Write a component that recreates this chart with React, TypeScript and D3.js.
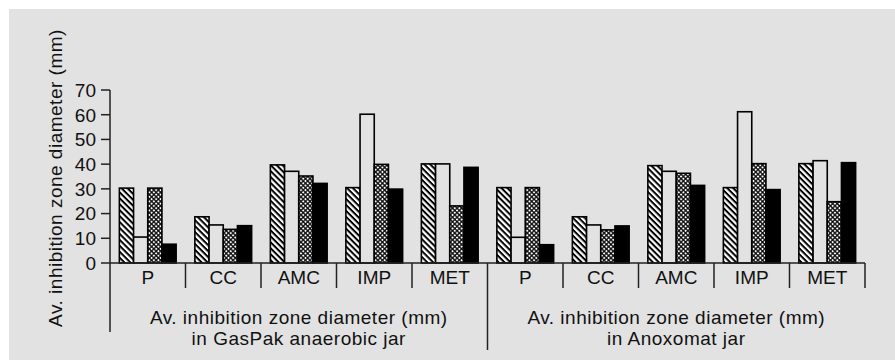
import React, { useEffect, useRef } from 'react';
import * as d3 from 'd3';

const drugs = ['P', 'CC', 'AMC', 'IMP', 'MET'];
const jarTitles = [
  ['Av. inhibition zone diameter (mm)', 'in GasPak anaerobic jar'],
  ['Av. inhibition zone diameter (mm)', 'in Anoxomat jar'],
];
const seriesKeys = ['hatched', 'open', 'dotted', 'solid'];
const yTicks = [0, 10, 20, 30, 40, 50, 60, 70];

// GasPak anaerobic jar, one value per drug
const gaspakHatched = [30.3, 18.7, 39.7, 30.5, 40.1];
const gaspakOpen = [10.5, 15.4, 37.1, 60.2, 40.1];
const gaspakDotted = [30.3, 13.6, 35.2, 39.9, 23.1];
const gaspakSolid = [7.6, 15.1, 32.2, 29.9, 38.7];

// Anoxomat jar
const anoxHatched = [30.5, 18.7, 39.4, 30.5, 40.2];
const anoxOpen = [10.4, 15.4, 37.1, 61.2, 41.4];
const anoxDotted = [30.5, 13.4, 36.3, 40.2, 24.8];
const anoxSolid = [7.4, 15.0, 31.4, 29.7, 40.6];

const jarSeries = [
  [gaspakHatched, gaspakOpen, gaspakDotted, gaspakSolid],
  [anoxHatched, anoxOpen, anoxDotted, anoxSolid],
];

const App: React.FC = () => {
  const ref = useRef<SVGSVGElement | null>(null);

  useEffect(() => {
    document.body.style.margin = '0';
    const W = 895;
    const H = 360;
    const bg = '#e2e2e2';
    const font = '"Liberation Sans", Arial, sans-serif';

    const svg = d3.select(ref.current);
    svg.selectAll('*').remove();
    svg.attr('width', W).attr('height', H);

    const defs = svg.append('defs');
    const hatch = defs.append('pattern')
      .attr('id', 'hatch')
      .attr('patternUnits', 'userSpaceOnUse')
      .attr('width', 4.2)
      .attr('height', 4.2)
      .attr('patternTransform', 'rotate(45)');
    hatch.append('rect').attr('width', 4.2).attr('height', 4.2).attr('fill', '#fff');
    hatch.append('rect').attr('width', 4.2).attr('height', 2).attr('fill', '#000');

    const dots = defs.append('pattern')
      .attr('id', 'dots')
      .attr('patternUnits', 'userSpaceOnUse')
      .attr('width', 3.2)
      .attr('height', 3.2)
      .attr('patternTransform', 'rotate(45)');
    dots.append('rect').attr('width', 3.2).attr('height', 3.2).attr('fill', '#111');
    dots.append('circle').attr('cx', 1.6).attr('cy', 1.6).attr('r', 1.05).attr('fill', '#fff');

    const fills: Record<string, string> = {
      hatched: 'url(#hatch)',
      open: bg,
      dotted: 'url(#dots)',
      solid: '#000',
    };

    svg.append('rect').attr('width', W).attr('height', H).attr('fill', '#fff');
    svg.append('rect').attr('x', 9).attr('y', 9).attr('width', W - 9).attr('height', H - 9).attr('fill', bg);

    const left = 110;
    const right = 865;
    const y = d3.scaleLinear().domain([0, 70]).range([263, 90]);

    const cats = jarSeries.flatMap((_, j) => drugs.map(d => `${j}-${d}`));
    const x = d3.scaleBand().domain(cats).range([left, right]).paddingInner(0).paddingOuter(0);
    const xs = d3.scaleBand().domain(seriesKeys).range([0, x.bandwidth()]).paddingInner(0).paddingOuter(0.66);

    const g = svg.append('g');

    // bars
    jarSeries.forEach((series, j) => {
      drugs.forEach((d, i) => {
        series.forEach((vals, s) => {
          const v = vals[i];
          g.append('rect')
            .attr('x', x(`${j}-${d}`)! + xs(seriesKeys[s])!)
            .attr('y', y(v))
            .attr('width', xs.bandwidth())
            .attr('height', y(0) - y(v))
            .attr('fill', fills[seriesKeys[s]])
            .attr('stroke', '#000')
            .attr('stroke-width', 1.6);
        });
      });
    });

    const line = (x1: number, y1: number, x2: number, y2: number) =>
      g.append('line')
        .attr('x1', x1).attr('y1', y1).attr('x2', x2).attr('y2', y2)
        .attr('stroke', '#222').attr('stroke-width', 1.5);

    // y axis
    line(left, y(70), left, 332);
    yTicks.forEach(t => {
      line(left - 9, y(t), left, y(t));
      g.append('text')
        .attr('x', left - 14)
        .attr('y', y(t))
        .attr('dy', '0.36em')
        .attr('text-anchor', 'end')
        .style('font-family', font)
        .style('font-size', '19px')
        .attr('fill', '#111')
        .text(t);
    });

    // x axis
    line(left, y(0), right, y(0));
    cats.forEach((c, k) => {
      const x0 = x(c)!;
      if (k > 0 && k % drugs.length !== 0) line(x0, y(0), x0, 288);
      g.append('text')
        .attr('x', x0 + x.bandwidth() / 2)
        .attr('y', 284)
        .attr('text-anchor', 'middle')
        .style('font-family', font)
        .style('font-size', '19px')
        .attr('fill', '#111')
        .text(drugs[k % drugs.length]);
    });
    const mid = x(`1-${drugs[0]}`)!;
    line(mid, y(0), mid, 350);
    line(right, y(0), right, 288);

    jarTitles.forEach((lines, j) => {
      const cx = (x(`${j}-${drugs[0]}`)! + x(`${j}-${drugs[drugs.length - 1]}`)! + x.bandwidth()) / 2;
      lines.forEach((t, li) => {
        g.append('text')
          .attr('x', cx)
          .attr('y', 324 + li * 21)
          .attr('text-anchor', 'middle')
          .style('font-family', font)
          .style('font-size', '19px')
          .style('letter-spacing', '0.5px')
          .attr('fill', '#111')
          .text(t);
      });
    });

    g.append('text')
      .attr('transform', `translate(62, ${(y(70) + 332) / 2 - 33}) rotate(-90)`)
      .attr('text-anchor', 'middle')
      .style('font-family', font)
      .style('font-size', '19px')
      .style('letter-spacing', '0.5px')
      .attr('fill', '#111')
      .text('Av. inhibition zone diameter (mm)');
  }, []);

  return <svg ref={ref}></svg>;
};

export default App;
